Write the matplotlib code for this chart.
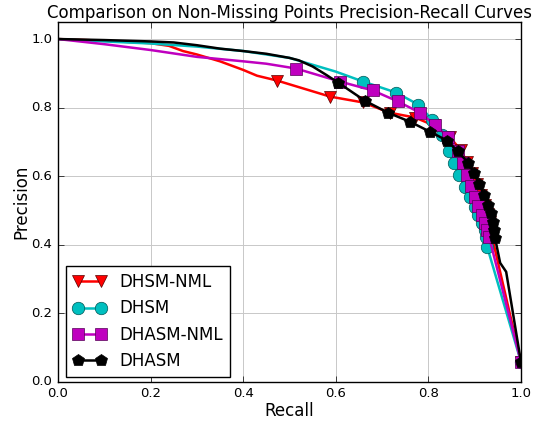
import matplotlib
matplotlib.use("Agg")
import matplotlib.pyplot as plt

# ---- data (recall, precision) ----
dhsm_nml_recall = [0.0, 0.10, 0.20, 0.24, 0.27, 0.30, 0.35, 0.40, 0.43,
                   0.473, 0.588, 0.659, 0.717, 0.771, 0.812, 0.847, 0.870, 0.884,
                   0.895, 0.905, 0.914, 0.922, 0.928, 0.933, 0.936, 0.938, 1.0]
dhsm_nml_precision = [1.0, 0.995, 0.988, 0.980, 0.965, 0.955, 0.935, 0.910, 0.893,
                      0.879, 0.832, 0.815, 0.785, 0.771, 0.748, 0.713, 0.676, 0.640,
                      0.608, 0.576, 0.546, 0.516, 0.490, 0.466, 0.443, 0.420, 0.058]

dhsm_recall = [0.0, 0.10, 0.20, 0.30, 0.40, 0.50, 0.55, 0.60,
               0.659, 0.730, 0.778, 0.808, 0.829, 0.844, 0.855, 0.866, 0.879,
               0.890, 0.901, 0.907, 0.916, 0.922, 0.924, 0.927, 1.0]
dhsm_precision = [1.0, 0.993, 0.987, 0.978, 0.965, 0.945, 0.925, 0.905,
                  0.876, 0.844, 0.809, 0.765, 0.721, 0.674, 0.639, 0.604, 0.569,
                  0.540, 0.511, 0.488, 0.464, 0.444, 0.423, 0.394, 0.058]

dhasm_nml_recall = [0.0, 0.10, 0.20, 0.30, 0.40, 0.45,
                    0.514, 0.609, 0.680, 0.734, 0.782, 0.814, 0.842, 0.864, 0.875,
                    0.883, 0.892, 0.901, 0.907, 0.916, 0.922, 0.927, 0.931, 1.0]
dhasm_nml_precision = [1.0, 0.985, 0.968, 0.948, 0.935, 0.928,
                       0.914, 0.876, 0.850, 0.818, 0.785, 0.750, 0.715, 0.672, 0.639,
                       0.604, 0.572, 0.540, 0.514, 0.488, 0.464, 0.444, 0.423, 0.058]

dhasm_recall = [0.0, 0.10, 0.20, 0.25, 0.30, 0.35, 0.40, 0.45, 0.50, 0.52, 0.55, 0.58,
                0.605, 0.663, 0.713, 0.760, 0.803, 0.840, 0.864, 0.886, 0.898,
                0.909, 0.920, 0.929, 0.935, 0.940, 0.942, 0.944,
                0.955, 0.968, 1.0]
dhasm_precision = [1.0, 0.997, 0.993, 0.990, 0.982, 0.972, 0.965, 0.957, 0.945, 0.938, 0.920, 0.895,
                   0.873, 0.820, 0.785, 0.759, 0.730, 0.704, 0.672, 0.639, 0.610,
                   0.578, 0.546, 0.517, 0.493, 0.467, 0.444, 0.420,
                   0.347, 0.321, 0.058]

series_names = ["DHSM-NML", "DHSM", "DHASM-NML", "DHASM"]
x_ticks = [0.0, 0.2, 0.4, 0.6, 0.8, 1.0]
y_ticks = [0.0, 0.2, 0.4, 0.6, 0.8, 1.0]

plt.style.use("classic")
fig = plt.figure(figsize=(5.41, 4.21), dpi=100, facecolor="white")
ax = fig.add_axes([0.107, 0.093, 0.856, 0.855])

def marks(n, first, extra_skip=()):
    return [i for i in range(first, n) if i not in extra_skip]

ax.plot(dhsm_nml_recall, dhsm_nml_precision, color="red", lw=1.8, marker="v",
        markersize=9, markeredgewidth=0.5, markeredgecolor="#550000",
        markevery=marks(len(dhsm_nml_recall), 9), label=series_names[0])
ax.plot(dhsm_recall, dhsm_precision, color="#00BFBF", lw=1.8, marker="o",
        markersize=9, markeredgewidth=0.5, markeredgecolor="#005555",
        markevery=marks(len(dhsm_recall), 8), label=series_names[1])
ax.plot(dhasm_nml_recall, dhasm_nml_precision, color="#BF00BF", lw=1.8, marker="s",
        markersize=8.5, markeredgewidth=0.5, markeredgecolor="#550055",
        markevery=marks(len(dhasm_nml_recall), 6), label=series_names[2])
n = len(dhasm_recall)
ax.plot(dhasm_recall, dhasm_precision, color="black", lw=1.8, marker="p",
        markersize=9, markeredgewidth=0.5, markeredgecolor="black",
        markevery=marks(n, 12, extra_skip=(n - 3, n - 2)), label=series_names[3])

ax.set_xlim(0, 1.0)
ax.set_ylim(0, 1.05)
ax.set_xticks(x_ticks)
ax.set_yticks(y_ticks)
ax.tick_params(labelsize=9.5)
ax.grid(True, color="#c8c8c8", linestyle="-", linewidth=0.7)
ax.set_axisbelow(True)
ax.set_xlabel("Recall", fontsize=12, labelpad=1)
ax.set_ylabel("Precision", fontsize=12, labelpad=1)
ax.set_title("Comparison on Non-Missing Points Precision-Recall Curves", fontsize=12, pad=3)

leg = ax.legend(loc="lower left", bbox_to_anchor=(0.018, 0.014), numpoints=2,
                fontsize=12, frameon=True, fancybox=False, borderaxespad=0.0)
leg.get_frame().set_edgecolor("black")

fig.savefig("out.png", dpi=100, facecolor="white")
